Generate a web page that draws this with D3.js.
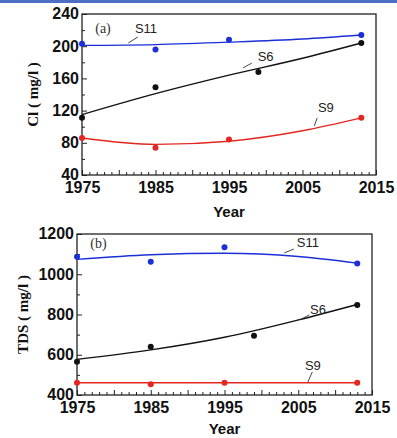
<!DOCTYPE html>
<html>
<head>
<meta charset="utf-8">
<script src="https://cdn.jsdelivr.net/npm/d3@7"></script>
<style>
  body { margin: 0; background: #fff; }
  svg { display: block; }
  .tick text { font-family: 'Liberation Sans', Arial, sans-serif; font-weight: bold; font-size: 16px; fill: #111; }
</style>
</head>
<body>
<svg id="chart"></svg>
<script>
const width = 397;
const height = 438;

// fit curve read-off years
const fitYears = [1975, 1985, 1995, 2005, 2013];

// panel (a) Cl
const clS11Years = [1975, 1985, 1995, 2013];
const clS11 = [203, 196, 208, 214];
const clS6Years = [1975, 1985, 1999, 2013];
const clS6 = [111, 149, 168, 204];
const clS9Years = [1975, 1985, 1995, 2013];
const clS9 = [86, 74, 84, 111];
const clFitS11 = [201, 202, 205, 209, 214];
const clFitS6 = [115, 141, 164, 185, 204];
const clFitS9 = [86, 78, 82, 95, 111];

// panel (b) TDS
const tdsS11Years = [1975, 1985, 1995, 2013];
const tdsS11 = [1087, 1062, 1134, 1053];
const tdsS6Years = [1975, 1985, 1999, 2013];
const tdsS6 = [565, 640, 695, 847];
const tdsS9Years = [1975, 1985, 1995, 2013];
const tdsS9 = [461, 453, 461, 461];
const tdsFitS11 = [1074, 1097, 1104, 1088, 1055];
const tdsFitS6 = [577, 624, 687, 773, 850];
const tdsFitS9 = [461, 461, 461, 461, 461];

const xTicks = [1975, 1985, 1995, 2005, 2015];
const clTicks = [40, 80, 120, 160, 200, 240];
const tdsTicks = [400, 600, 800, 1000, 1200];

const colors = { S11: '#1a2fd6', S6: '#111111', S9: '#e3261f' };

const svg = d3.select('#chart').attr('width', width).attr('height', height);

svg.append('rect').attr('x', 0).attr('y', 0).attr('width', width).attr('height', 3)
  .attr('fill', '#4e6ec3');

const drawPanel = (opt) => {
  const x = d3.scaleLinear().domain([1975, 2015]).range([opt.left, opt.right]);
  const y = d3.scaleLinear().domain(opt.yDomain).range([opt.bottom, opt.top]);
  const g = svg.append('g');

  // minor ticks
  const yMinor = d3.range(opt.yDomain[0], opt.yDomain[1], opt.yStep / 2).filter((v) => !opt.yTicks.includes(v));
  g.append('g').attr('transform', 'translate(' + opt.left + ',0)')
    .call(d3.axisLeft(y).tickValues(yMinor).tickSize(-3).tickFormat(''))
    .call((a) => a.select('.domain').remove());
  const xMinor = d3.range(1976, 2015).filter((v) => v % 5 !== 0);
  g.append('g').attr('transform', 'translate(0,' + opt.bottom + ')')
    .call(d3.axisBottom(x).tickValues(xMinor).tickSize(-3).tickFormat(''))
    .call((a) => a.select('.domain').remove());
  g.append('g').attr('transform', 'translate(0,' + opt.bottom + ')')
    .call(d3.axisBottom(x).tickValues([1980, 1990, 2000, 2010]).tickSize(-5).tickFormat(''))
    .call((a) => a.select('.domain').remove());

  // major ticks
  g.append('g').attr('transform', 'translate(' + opt.left + ',0)')
    .call(d3.axisLeft(y).tickValues(opt.yTicks).tickSize(-5).tickPadding(3).tickFormat(d3.format('d')))
    .call((a) => a.select('.domain').remove())
    .call((a) => a.selectAll('text').attr('dy', '0.3em'));
  g.append('g').attr('transform', 'translate(0,' + opt.bottom + ')')
    .call(d3.axisBottom(x).tickValues(xTicks).tickSize(-5).tickPadding(7).tickFormat(d3.format('d')))
    .call((a) => a.select('.domain').remove())
    .call((a) => a.selectAll('text').attr('dy', '0.71em'));
  g.selectAll('.tick line').attr('stroke', '#222').attr('stroke-width', 1);

  g.append('rect')
    .attr('x', opt.left).attr('y', opt.top)
    .attr('width', opt.right - opt.left).attr('height', opt.bottom - opt.top)
    .attr('fill', 'none').attr('stroke', '#222').attr('stroke-width', 1.3);

  const line = d3.line().x((d) => x(d[0])).y((d) => y(d[1])).curve(d3.curveMonotoneX);

  opt.series.forEach((s) => {
    g.append('path')
      .datum(fitYears.map((yr, i) => [yr, s.fit[i]]))
      .attr('fill', 'none')
      .attr('stroke', colors[s.name])
      .attr('stroke-width', 1.4)
      .attr('d', line);
    g.selectAll(null)
      .data(s.years.map((yr, i) => [yr, s.values[i]]))
      .enter()
      .append('circle')
      .attr('cx', (d) => x(d[0]))
      .attr('cy', (d) => y(d[1]))
      .attr('r', 3)
      .attr('fill', colors[s.name]);
    g.append('line')
      .attr('x1', x(s.lead[0])).attr('y1', y(s.lead[1]))
      .attr('x2', x(s.lead[2])).attr('y2', y(s.lead[3]))
      .attr('stroke', '#333').attr('stroke-width', 0.9);
    g.append('text')
      .attr('x', x(s.label[0])).attr('y', y(s.label[1]))
      .style('font-family', "'Liberation Sans', Arial, sans-serif")
      .style('font-size', '13px')
      .attr('fill', '#222')
      .text(s.name);
  });

  g.append('text')
    .attr('x', x(opt.tag[0])).attr('y', y(opt.tag[1]))
    .style('font-family', "'Liberation Serif', 'Times New Roman', serif")
    .style('font-size', '14px')
    .attr('fill', '#333')
    .text(opt.tagText);

  g.append('text')
    .attr('transform', 'translate(' + opt.yLabelX + ',' + (opt.top + opt.bottom) / 2 + ') rotate(-90)')
    .attr('text-anchor', 'middle')
    .attr('dy', '0.35em')
    .style('font-family', "'Liberation Serif', 'Times New Roman', serif")
    .style('font-weight', 'bold')
    .style('font-size', '15px')
    .attr('fill', '#111')
    .text(opt.yLabel);

  g.append('text')
    .attr('x', x(1995)).attr('y', opt.bottom + opt.yearGap)
    .attr('text-anchor', 'middle')
    .style('font-family', "'Liberation Sans', Arial, sans-serif")
    .style('font-weight', 'bold')
    .style('font-size', '15px')
    .attr('fill', '#111')
    .text('Year');
};

drawPanel({
  left: 82, right: 376, top: 14, bottom: 175,
  yDomain: [40, 240], yStep: 40, yTicks: clTicks,
  yLabel: 'Cl ( mg/l )', yLabelX: 33, yearGap: 42,
  tag: [1976.8, 216], tagText: '(a)',
  series: [
    { name: 'S11', years: clS11Years, values: clS11, fit: clFitS11,
      lead: [1981.3, 204, 1982.6, 211.4], label: [1982.2, 216.4] },
    { name: 'S6', years: clS6Years, values: clS6, fit: clFitS6,
      lead: [1996.9, 173, 1998.1, 179], label: [1998.9, 181.6] },
    { name: 'S9', years: clS9Years, values: clS9, fit: clFitS9,
      lead: [2006.6, 100.9, 2007.0, 110.8], label: [2007.1, 118] }
  ]
});

drawPanel({
  left: 77, right: 372, top: 234, bottom: 395,
  yDomain: [400, 1200], yStep: 200, yTicks: tdsTicks,
  yLabel: 'TDS ( mg/l )', yLabelX: 23, yearGap: 39,
  tag: [1976.8, 1130], tagText: '(b)',
  series: [
    { name: 'S11', years: tdsS11Years, values: tdsS11, fit: tdsFitS11,
      lead: [2003.1, 1106, 2004.4, 1125], label: [2004.8, 1135] },
    { name: 'S6', years: tdsS6Years, values: tdsS6, fit: tdsFitS6,
      lead: [2005.2, 773, 2006.5, 798], label: [2006.6, 802] },
    { name: 'S9', years: tdsS9Years, values: tdsS9, fit: tdsFitS9,
      lead: [2006.3, 464, 2006.9, 514], label: [2005.9, 524] }
  ]
});
</script>
</body>
</html>
